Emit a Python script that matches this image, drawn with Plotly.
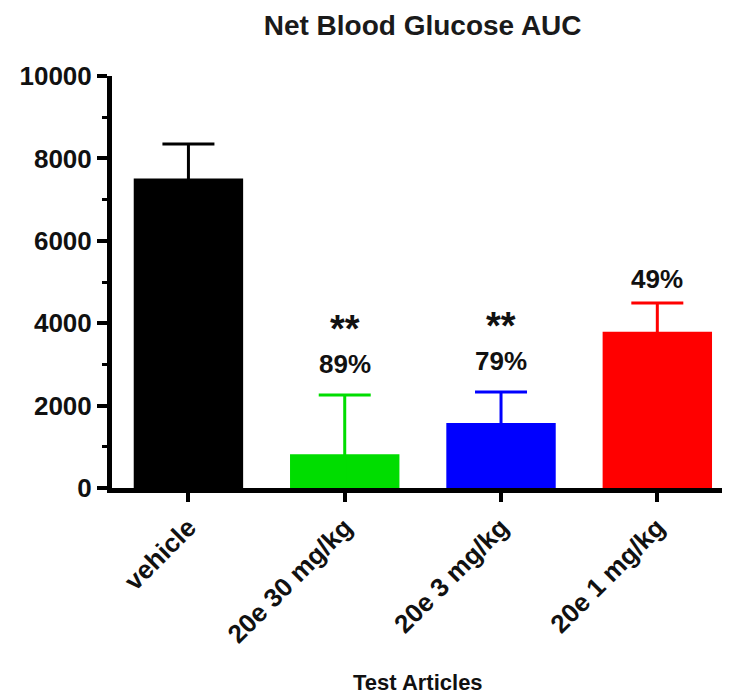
import plotly.graph_objects as go

# data
categories = ["vehicle", "20e 30 mg/kg", "20e 3 mg/kg", "20e 1 mg/kg"]
auc_mean = [7510, 820, 1580, 3790]
auc_sem = [840, 1440, 750, 700]
bar_colors = ["#000000", "#00dd00", "#0000ff", "#ff0000"]
pct_labels = ["", "89%", "79%", "49%"]
sig_labels = ["", "**", "**", ""]
y_ticks = [0, 2000, 4000, 6000, 8000, 10000]

FONT = "Arial, Liberation Sans, sans-serif"

fig = go.Figure()

for cat, m, e, c in zip(categories, auc_mean, auc_sem, bar_colors):
    # error bar runs down to zero so the lower cap hides under the x axis line
    fig.add_trace(go.Bar(
        x=[cat], y=[m],
        width=0.70,
        marker=dict(color=c, line=dict(width=0)),
        error_y=dict(type="data", symmetric=False, array=[e], arrayminus=[m],
                     color=c, thickness=3, width=26),
        showlegend=False,
    ))

# percentage / significance annotations above the error bars
for cat, m, e, p, s in zip(categories, auc_mean, auc_sem, pct_labels, sig_labels):
    if p:
        fig.add_annotation(x=cat, y=m + e, text=f"<b>{p}</b>", showarrow=False,
                           yanchor="middle", yshift=31 if s else 24,
                           font=dict(family=FONT, size=26, color="#111"))
    if s:
        fig.add_annotation(x=cat, y=m + e, text=f"<b>{s}</b>", showarrow=False,
                           yanchor="middle", yshift=66,
                           font=dict(family=FONT, size=38, color="#111"))

fig.add_annotation(text="<b>Test Articles</b>", xref="paper", yref="paper",
                   x=0.491, y=-0.472, yanchor="middle", showarrow=False,
                   font=dict(family=FONT, size=22, color="#111"))

fig.update_layout(
    width=730, height=700,
    margin=dict(l=104, r=3, t=68, b=220),
    plot_bgcolor="white", paper_bgcolor="white",
    title=dict(text="<b>Net Blood Glucose AUC</b>", x=0.568, xanchor="center",
               y=0.99, yanchor="top",
               font=dict(family=FONT, size=28, color="#1a1a1a")),
    font=dict(family=FONT, color="#111"),
)

fig.update_yaxes(
    range=[0, 10000], tickvals=y_ticks, ticktext=[f"<b>{v}</b>" for v in y_ticks],
    showgrid=False, zeroline=False, automargin=False,
    showline=True, linecolor="black", linewidth=5,
    ticks="outside", ticklen=10, tickwidth=4, tickcolor="black",
    minor=dict(dtick=1000, ticks="outside", ticklen=5, tickwidth=3, tickcolor="black"),
    tickfont=dict(family=FONT, size=26, color="#111"),
)

fig.update_xaxes(
    range=[-0.489, 3.497],
    showgrid=False, zeroline=False, automargin=False,
    showline=True, linecolor="black", linewidth=5,
    ticks="outside", ticklen=9, tickwidth=4, tickcolor="black",
    tickangle=-45,
    tickfont=dict(family=FONT, size=26, color="#111"),
    ticktext=[f"<b>{c}</b>" for c in categories], tickvals=categories,
)

fig.write_html("out.html")
